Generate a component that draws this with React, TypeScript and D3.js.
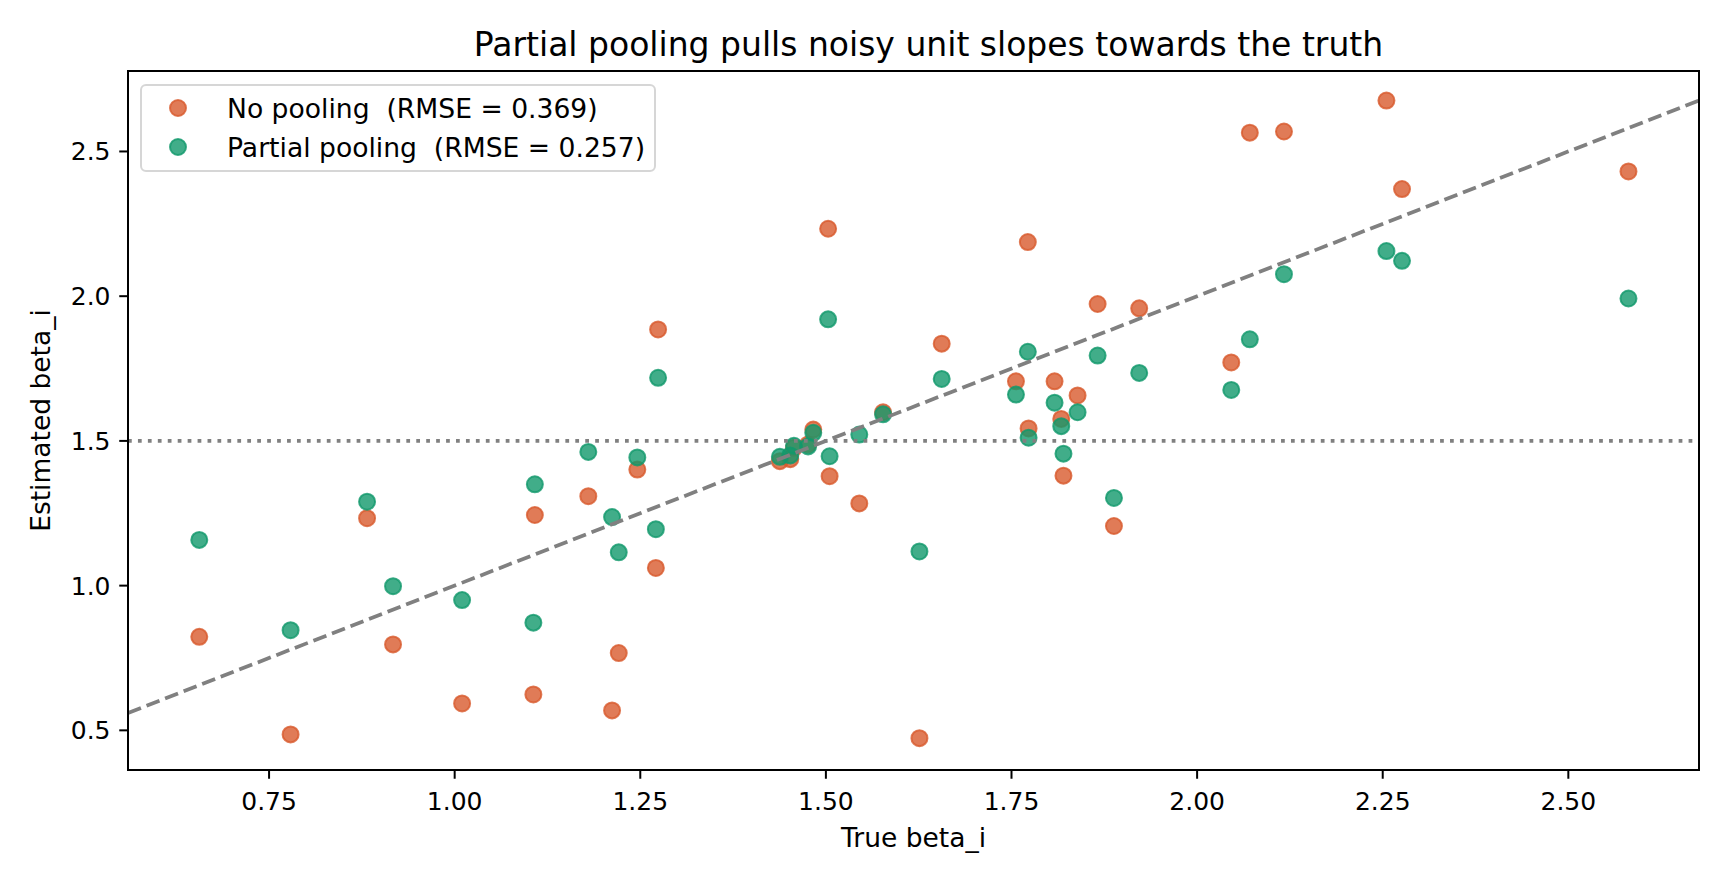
import * as d3 from 'd3';

// true unit slopes and the two estimates
const trueBeta = [
  0.656, 0.779, 0.882, 0.917, 1.010, 1.106, 1.108, 1.180, 1.212, 1.221,
  1.246, 1.271, 1.274, 1.438, 1.452, 1.457, 1.476, 1.483, 1.503, 1.505,
  1.545, 1.577, 1.626, 1.656, 1.756, 1.772, 1.773, 1.808, 1.817, 1.820,
  1.839, 1.866, 1.888, 1.922, 2.046, 2.071, 2.117, 2.255, 2.276, 2.581,
];
const noPooling = [
  0.823, 0.486, 1.233, 0.797, 0.593, 0.624, 1.244, 1.309, 0.569, 0.767,
  1.401, 1.061, 1.885, 1.430, 1.437, 1.476, 1.488, 1.539, 2.233, 1.378,
  1.284, 1.599, 0.473, 1.836, 1.706, 2.187, 1.543, 1.706, 1.576, 1.380,
  1.657, 1.973, 1.206, 1.958, 1.771, 2.565, 2.569, 2.676, 2.370, 2.431,
];
const partialPooling = [
  1.158, 0.846, 1.290, 0.998, 0.950, 0.872, 1.350, 1.462, 1.237, 1.115,
  1.443, 1.195, 1.718, 1.445, 1.450, 1.483, 1.481, 1.528, 1.920, 1.447,
  1.522, 1.592, 1.118, 1.714, 1.660, 1.808, 1.511, 1.632, 1.551, 1.456,
  1.599, 1.795, 1.303, 1.735, 1.676, 1.851, 2.076, 2.156, 2.122, 1.992,
];

const seriesLabels = ['No pooling  (RMSE = 0.369)', 'Partial pooling  (RMSE = 0.257)'];
const seriesColors = ['#d85a2d', '#12996b'];
const populationMean = 1.5;

const xTicks = [0.75, 1.0, 1.25, 1.5, 1.75, 2.0, 2.25, 2.5];
const yTicks = [0.5, 1.0, 1.5, 2.0, 2.5];
const xDomain = [0.56, 2.676];
const yDomain = [0.363, 2.778];

const W = 1728;
const H = 883;
const margin = { left: 128, right: 29, top: 71, bottom: 113 };
const FONT = '"DejaVu Sans", sans-serif';

export default function App() {
  const x = d3.scaleLinear().domain(xDomain).range([margin.left, W - margin.right]);
  const y = d3.scaleLinear().domain(yDomain).range([H - margin.bottom, margin.top]);
  const [x0, x1] = x.range();
  const [y0, y1] = y.range();
  const fmtX = d3.format('.2f');
  const fmtY = d3.format('.1f');

  const series = [noPooling, partialPooling];

  // identity line across the visible x range
  const identity = d3.line<number>().x(d => x(d)).y(d => y(d))(xDomain) || '';

  return (
    <div style={{ position: 'absolute', left: 0, top: 0 }}>
      <svg width={W} height={H} style={{ display: 'block', background: '#fff' }} fontFamily={FONT}>
        <defs>
          <clipPath id="plot">
            <rect x={x0} y={y1} width={x1 - x0} height={y0 - y1} />
          </clipPath>
        </defs>

        <g clipPath="url(#plot)">
          {series.map((vals, s) => (
            <g key={s}>
              {vals.map((v, i) => (
                <circle
                  key={i}
                  cx={x(trueBeta[i])}
                  cy={y(v)}
                  r={8}
                  fill={seriesColors[s]}
                  fillOpacity={0.8}
                  stroke={seriesColors[s]}
                  strokeOpacity={0.8}
                  strokeWidth={2}
                />
              ))}
            </g>
          ))}
          <path d={identity} fill="none" stroke="#808080" strokeWidth={3.75} strokeDasharray="13.9 6" />
          <line
            x1={x0}
            x2={x1}
            y1={y(populationMean)}
            y2={y(populationMean)}
            stroke="#808080"
            strokeWidth={3.75}
            strokeDasharray="3.75 6.19"
          />
        </g>

        {/* frame */}
        <rect x={x0} y={y1} width={x1 - x0} height={y0 - y1} fill="none" stroke="#000" strokeWidth={2} />

        {/* x axis */}
        {xTicks.map(t => (
          <g key={t} transform={`translate(${x(t)},${y0})`}>
            <line y2={8.75} stroke="#000" strokeWidth={2} />
            <text y={40} textAnchor="middle" fontSize={25}>{fmtX(t)}</text>
          </g>
        ))}
        <text x={(x0 + x1) / 2} y={847} textAnchor="middle" fontSize={26.5}>True beta_i</text>

        {/* y axis */}
        {yTicks.map(t => (
          <g key={t} transform={`translate(${x0},${y(t)})`}>
            <line x2={-8.75} stroke="#000" strokeWidth={2} />
            <text x={-17.5} dy="0.36em" textAnchor="end" fontSize={25}>{fmtY(t)}</text>
          </g>
        ))}
        <text
          transform={`translate(50,${(y0 + y1) / 2}) rotate(-90)`}
          textAnchor="middle"
          fontSize={26.5}
        >
          Estimated beta_i
        </text>

        <text x={(x0 + x1) / 2 + 15} y={56} textAnchor="middle" fontSize={33}>
          Partial pooling pulls noisy unit slopes towards the truth
        </text>

        {/* legend */}
        <g transform={`translate(${x0 + 13},${y1 + 14})`}>
          <rect width={514} height={86} rx={5} fill="#fff" fillOpacity={0.8} stroke="#cccccc" strokeOpacity={0.8} strokeWidth={2} />
          {seriesLabels.map((lab, s) => (
            <g key={lab} transform={`translate(0,${23 + s * 39})`}>
              <circle cx={37} r={8} fill={seriesColors[s]} fillOpacity={0.8} stroke={seriesColors[s]} strokeOpacity={0.8} strokeWidth={2} />
              <text x={86} dy="0.36em" fontSize={26.6} style={{ whiteSpace: 'pre' }}>{lab}</text>
            </g>
          ))}
        </g>
      </svg>
    </div>
  );
}
